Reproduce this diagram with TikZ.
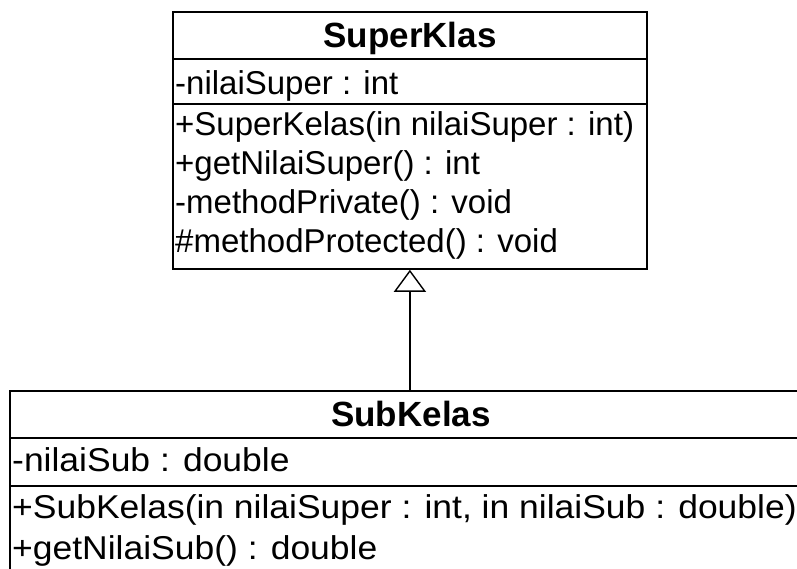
\documentclass[tikz,border=0pt]{standalone}
\usepackage{fontspec}
\setmainfont{Liberation Sans}
\newfontfamily\widesans[FakeStretch=1.075]{Liberation Sans}
\usetikzlibrary{arrows.meta}
\begin{document}
\begin{tikzpicture}[x=1pt, y=-1pt,
  umlbox/.style={draw, line width=1.8pt, inner sep=0pt, anchor=north west},
  member/.style={anchor=base west, inner sep=0pt, font=\fontsize{33pt}{39pt}\selectfont},
  submember/.style={anchor=base west, inner sep=0pt, font=\widesans\fontsize{33pt}{39pt}\selectfont},
  classname/.style={anchor=base, inner sep=0pt, font=\fontsize{35pt}{41pt}\selectfont\bfseries},
  divider/.style={line width=1.8pt},
  generalization/.style={draw, line width=1.4pt, -{Triangle[open, length=22pt, width=32pt, line width=1.4pt]}}]
  \useasboundingbox (0,0) rectangle (797,568);
  \clip (0,0) rectangle (797,568);

  % superclass
  \node[umlbox, minimum width=474pt, minimum height=257pt] (supbox) at (172,11) {};
  \draw[divider] (supbox.west |- 0,59) -- (supbox.east |- 0,59);
  \draw[divider] (supbox.west |- 0,104) -- (supbox.east |- 0,104);
  \node[classname] (supname) at (410,47) {SuperKlas};
  \node[member] (supattr) at (175,94) {-nilaiSuper : int};
  \node[member] (supm1) at (175,135) {+SuperKelas(in nilaiSuper : int)};
  \node[member] (supm2) at (175,174) {+getNilaiSuper() : int};
  \node[member] (supm3) at (175,213) {-methodPrivate() : void};
  \node[member] (supm4) at (175,252) {\#methodProtected() : void};

  % subclass (runs past the right and bottom edges)
  \node[umlbox, minimum width=820pt, minimum height=220pt] (subbox) at (9,390) {};
  \draw[divider] (subbox.west |- 0,438) -- (subbox.east |- 0,438);
  \draw[divider] (subbox.west |- 0,486) -- (subbox.east |- 0,486);
  \node[classname] (subname) at (411,426) {SubKelas};
  \node[submember] (subattr) at (12,471) {-nilaiSub : double};
  \node[submember] (subm1) at (12,518) {+SubKelas(in nilaiSuper : int, in nilaiSub : double)};
  \node[submember] (subm2) at (12,559) {+getNilaiSub() : double};

  % inheritance
  \draw[generalization] (subbox.north -| supbox.south) -- (supbox.south);
\end{tikzpicture}
\end{document}
